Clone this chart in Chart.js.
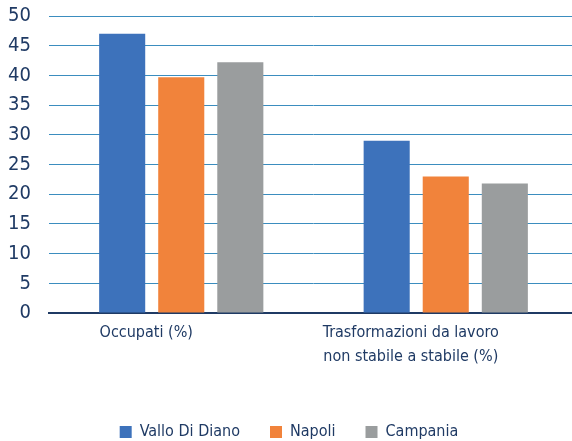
<!DOCTYPE html>
<html lang="it">
<head>
    <meta charset="UTF-8">
    <title>Occupati e trasformazioni</title>
    <script src="https://cdn.jsdelivr.net/npm/chart.js"></script>
    <style>
        html, body { margin: 0; padding: 0; background: #fff; overflow: hidden; }
        .wrap { width: 578px; height: 441px; }
    </style>
</head>
<body>
    <div class="wrap"><canvas id="myChart" width="578" height="441"></canvas></div>

    <script>
        const categories = ['Occupati (%)', ['Trasformazioni da lavoro', 'non stabile a stabile (%)']];
        const seriesNames = ['Vallo Di Diano', 'Napoli', 'Campania'];
        const valloDiDiano = [47.0, 29.0];
        const napoli = [39.7, 23.0];
        const campania = [42.2, 21.8];
        const colors = ['#3d72bb', '#f1833b', '#9a9d9e'];

        const fontFamily = '"DejaVu Sans Condensed", "Liberation Sans Narrow", "Roboto", sans-serif';
        const navy = '#1f3a64';

        const ctx = document.getElementById('myChart').getContext('2d');

        new Chart(ctx, {
            type: 'bar',
            data: {
                labels: categories,
                datasets: [valloDiDiano, napoli, campania].map((d, i) => ({
                    label: seriesNames[i],
                    data: d,
                    backgroundColor: colors[i],
                    borderWidth: 0,
                    categoryPercentage: 0.67,
                    barPercentage: 0.78
                }))
            },
            options: {
                responsive: false,
                animation: false,
                layout: { padding: { top: 16, left: 0, right: 0, bottom: -9 } },
                plugins: {
                    tooltip: { enabled: false },
                    legend: {
                        position: 'bottom',
                        labels: {
                            color: navy,
                            font: { family: fontFamily, size: 16 },
                            boxWidth: 12,
                            boxHeight: 12,
                            padding: 30
                        }
                    }
                },
                scales: {
                    x: {
                        grid: { display: false },
                        border: { color: navy, width: 2 },
                        ticks: {
                            color: navy,
                            font: { family: fontFamily, size: 16, lineHeight: 1.5 },
                            labelOffset: -35,
                            padding: 0
                        },
                        afterFit: (scale) => { scale.height = 81; }
                    },
                    y: {
                        min: 0,
                        max: 50,
                        ticks: {
                            stepSize: 5,
                            color: navy,
                            font: { family: fontFamily, size: 20 },
                            padding: 18
                        },
                        grid: { color: '#3b8dbf', lineWidth: 1, drawTicks: false },
                        border: { display: false },
                        afterFit: (scale) => {
                            scale.width = 49;
                            scale.paddingTop = 0;
                            scale.paddingBottom = 0;
                        }
                    }
                }
            }
        });
    </script>
</body>
</html>
